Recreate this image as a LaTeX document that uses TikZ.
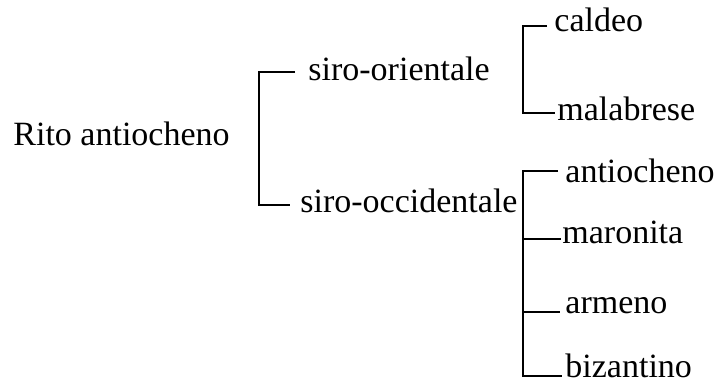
\documentclass[tikz,border=0pt]{standalone}
\usepackage{fontspec}
\setmainfont{Liberation Serif}

\begin{document}
\begin{tikzpicture}[x=0.5pt,y=-0.5pt,
  entry/.style={anchor=base west,inner sep=0pt,font=\fontsize{17}{20}\selectfont},
  brk/.style={line width=1.2pt}]
\useasboundingbox (0,0) rectangle (716,383);

% root and first level
\node[entry] (rito) at (13,146) {Rito antiocheno};
\node[entry] (sor) at (308,81) {siro-orientale};
\node[entry] (socc) at (300,213) {siro-occidentale};

% second level
\node[entry] (cal) at (554,32) {caldeo};
\node[entry] (mal) at (557,121) {malabrese};
\node[entry] (ant) at (565,183) {antiocheno};
\node[entry] (mar) at (562,244) {maronita};
\node[entry] (arm) at (565,314) {armeno};
\node[entry] (biz) at (565,378) {bizantino};

% spines of the brackets
\coordinate (b1) at (259,138);
\coordinate (b2) at (523,70);
\coordinate (b3) at (523,270);

\draw[brk] ([shift={(-13,-9)}]sor.base west) -| (b1) |- ([shift={(-10,-8)}]socc.base west);
\draw[brk] ([shift={(-7,-6)}]cal.base west) -| (b2) |- ([shift={(-2,-8)}]mal.base west);
\draw[brk] ([shift={(-7,-12)}]ant.base west) -| (b3) |- ([shift={(-3,-2)}]biz.base west);
\draw[brk] (b3 |- mar.base west) ++(0,-5) -- ([shift={(-1,-5)}]mar.base west);
\draw[brk] (b3 |- arm.base west) ++(0,-2) -- ([shift={(-5,-2)}]arm.base west);
\end{tikzpicture}
\end{document}
